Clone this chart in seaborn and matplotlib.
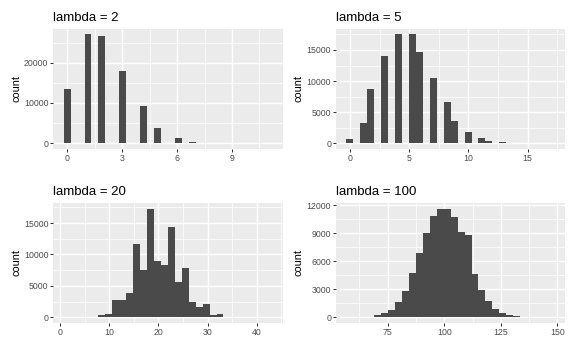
import numpy as np
import pandas as pd
import matplotlib
matplotlib.use("Agg")
import matplotlib.pyplot as plt
from matplotlib.ticker import FixedLocator
import seaborn as sns

# lambda = 2 and lambda = 5: counts for each observed integer value
lam2_values = list(range(12))
lam2_counts = [13400, 27000, 26700, 17900, 9150, 3650, 1230, 330, 90, 20, 4, 1]

lam5_values = list(range(18))
lam5_counts = [680, 3250, 8650, 14100, 17500, 17500, 14600, 10550, 6550, 3550,
               1800, 830, 330, 140, 55, 15, 5, 1]

# lambda = 20 and lambda = 100: counts for each of the 30 histogram bins
lam20_range = (1, 42)
lam20_bin_counts = [0, 0, 1, 25, 50, 420, 550, 2800, 2750, 3900,
                    11700, 7600, 17300, 9000, 8350, 14300, 5650, 7900, 2500, 1700,
                    2100, 420, 550, 110, 110, 25, 10, 8, 1, 1]

lam100_range = (58, 147)
lam100_bin_counts = [0, 0, 5, 50, 200, 430, 770, 1600, 2860, 4700,
                     6850, 9050, 10900, 11650, 11650, 10800, 9100, 8850, 4600, 2950,
                     1780, 930, 500, 280, 120, 70, 40, 10, 3, 1]

titles = ["lambda = 2", "lambda = 5", "lambda = 20", "lambda = 100"]
x_ticks = [[0, 3, 6, 9], [0, 5, 10, 15], [0, 10, 20, 30, 40], [75, 100, 125, 150]]
y_ticks = [[0, 10000, 20000], [0, 5000, 10000, 15000], [0, 5000, 10000, 15000],
           [0, 3000, 6000, 9000, 12000]]


def gg_breaks(lo, hi, bins=30):
    # same bin layout as ggplot2's geom_histogram(bins = 30)
    w = (hi - lo) / (bins - 1)
    boundary = w / 2
    shift = np.floor((lo - boundary) / w)
    origin = boundary + shift * w
    n = int(np.floor((hi + (1 - 1e-8) * w - origin) / w)) + 1
    return origin + w * np.arange(n)


def minor_from(major, lo, hi):
    step = major[1] - major[0]
    m = np.arange(major[0] - step / 2, major[-1] + step, step)
    return [v for v in m if lo <= v <= hi]


sns.set_style("darkgrid", {"axes.facecolor": "#EBEBEB", "grid.color": "white"})
plt.rcParams["font.family"] = ["Liberation Sans", "DejaVu Sans"]

fig, axes = plt.subplots(2, 2, figsize=(8, 5), dpi=72)
plt.subplots_adjust(left=0.0925, right=0.9814, top=0.9194, bottom=0.1036,
                    wspace=0.2336, hspace=0.4567)

panels = []
b = gg_breaks(min(lam2_values), max(lam2_values))
panels.append((lam2_values, lam2_counts, b))
b = gg_breaks(min(lam5_values), max(lam5_values))
panels.append((lam5_values, lam5_counts, b))
b = gg_breaks(*lam20_range)
panels.append(((b[:-1] + b[1:]) / 2, lam20_bin_counts, b))
b = gg_breaks(*lam100_range)
panels.append(((b[:-1] + b[1:]) / 2, lam100_bin_counts, b))

for i, ax in enumerate(axes.flat):
    xs, ws, breaks = panels[i]
    df = pd.DataFrame({"value": np.asarray(xs, dtype=float), "n": ws})
    sns.histplot(data=df, x="value", weights="n", bins=list(breaks), ax=ax,
                 color="#4a4a4a", alpha=1, linewidth=0)

    span = breaks[-1] - breaks[0]
    xlo, xhi = breaks[0] - 0.05 * span, breaks[-1] + 0.05 * span
    ymax = max(ws)
    ylo, yhi = -0.05 * ymax, 1.05 * ymax
    ax.set_xlim(xlo, xhi)
    ax.set_ylim(ylo, yhi)

    ax.set_xticks(x_ticks[i])
    ax.set_xticklabels([str(t) for t in x_ticks[i]])
    ax.set_yticks(y_ticks[i])
    ax.set_yticklabels([str(t) for t in y_ticks[i]])
    ax.xaxis.set_minor_locator(FixedLocator(minor_from(x_ticks[i], xlo, xhi)))
    ax.yaxis.set_minor_locator(FixedLocator(minor_from(y_ticks[i], ylo, yhi)))

    ax.grid(which="major", color="white", linewidth=1.42)
    ax.grid(which="minor", color="white", linewidth=0.71)
    ax.set_axisbelow(True)
    ax.tick_params(which="major", length=2.75, width=1.0, color="#333333",
                   labelsize=8.8, labelcolor="#4D4D4D", pad=2.2,
                   bottom=True, left=True)
    ax.tick_params(which="minor", length=0)
    for s in ax.spines.values():
        s.set_visible(False)

    ax.set_xlabel("")
    ax.set_ylabel("count", fontsize=11, labelpad=2.75, color="black")
    ax.set_title(titles[i], loc="left", fontsize=13.2, pad=8, color="black")

fig.savefig("out.png", dpi=72)
